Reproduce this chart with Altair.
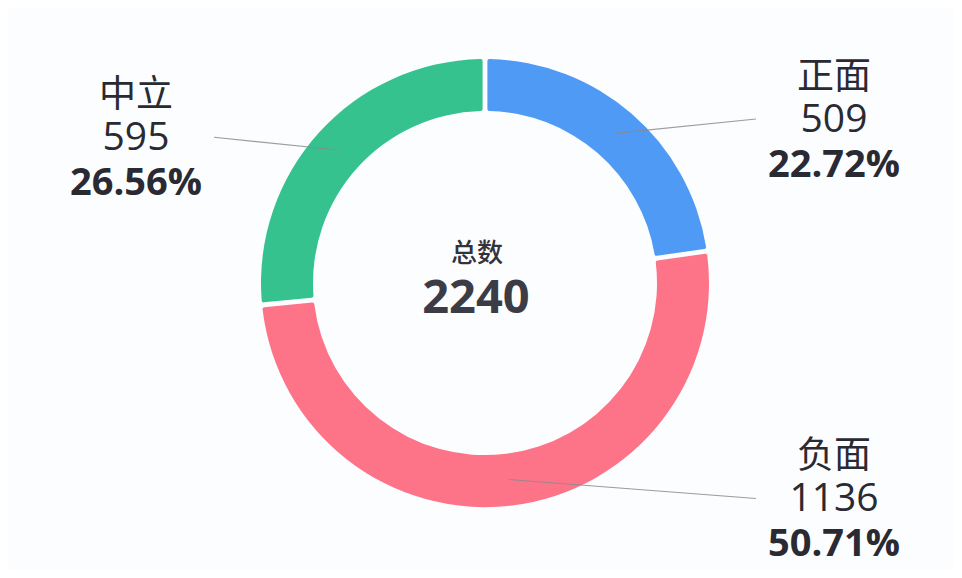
import altair as alt
import pandas as pd

# ---- data ----
categories = ["正面", "负面", "中立"]
counts = [509, 1136, 595]
percents = ["22.72%", "50.71%", "26.56%"]
colors = ["#4f9af4", "#fd7489", "#36c28e"]
center_title = "总数"
center_value = "2240"

df = pd.DataFrame({
    "category": categories,
    "count": counts,
    "pct": percents,
    "order": list(range(len(categories))),
})

# ---- layout constants ----
W, H = 946, 562
CX, CY = 477, 275
R_OUT, R_IN = 224, 172
R_MID = (R_OUT + R_IN) / 2
LINE_X = 271
LINE_YR = 217
LABEL_GAP = 78
TEXT_COLOR = "#2a2a32"

color_scale = alt.Scale(domain=categories, range=colors)

arcs = alt.Chart(df).mark_arc(
    outerRadius=R_OUT, innerRadius=R_IN, padAngle=0.017, cornerRadius=2
).encode(
    theta=alt.Theta("count:Q", stack=True),
    order=alt.Order("order:Q"),
    color=alt.Color("category:N", scale=color_scale, legend=None),
    x=alt.value(CX),
    y=alt.value(CY),
)

base = alt.Chart(df).transform_window(
    cum="sum(count)", sort=[alt.SortField("order")], frame=[None, 0]
).transform_joinaggregate(
    total="sum(count)"
).transform_calculate(
    mid="(datum.cum - datum.count / 2) / datum.total * 2 * PI"
).transform_calculate(
    side="sin(datum.mid) >= 0 ? 1 : -1",
    sx=f"{CX} + {R_MID} * sin(datum.mid)",
    sy=f"{CY} - {R_MID} * cos(datum.mid)",
).transform_calculate(
    ex=f"{CX} + datum.side * {LINE_X}",
    ey=f"{CY} - {LINE_YR} * cos(datum.mid)",
).transform_calculate(
    lx=f"datum.ex + datum.side * {LABEL_GAP}",
)

lines = base.mark_rule(color="#8a8a90", strokeWidth=1.1, opacity=0.85).encode(
    x=alt.X("sx:Q", scale=None),
    y=alt.Y("sy:Q", scale=None),
    x2="ex:Q",
    y2="ey:Q",
)

name_text = base.mark_text(
    font="Noto Sans CJK SC", fontSize=37, color=TEXT_COLOR,
    align="center", baseline="alphabetic", dy=-30,
).encode(x=alt.X("lx:Q", scale=None), y=alt.Y("ey:Q", scale=None), text="category:N")

count_text = base.mark_text(
    font="Open Sans", fontSize=39, color=TEXT_COLOR,
    align="center", baseline="alphabetic", dy=13,
).encode(x=alt.X("lx:Q", scale=None), y=alt.Y("ey:Q", scale=None), text="count:Q")

pct_text = base.mark_text(
    font="Open Sans", fontSize=38, fontWeight="bold", color=TEXT_COLOR,
    align="center", baseline="alphabetic", dy=58,
).encode(x=alt.X("lx:Q", scale=None), y=alt.Y("ey:Q", scale=None), text="pct:N")

center_df = pd.DataFrame({"title": [center_title], "value": [center_value]})

center_title_mark = alt.Chart(center_df).mark_text(
    font="Noto Sans CJK SC", fontSize=26, fontWeight=500, color="#33333b",
    align="center", baseline="alphabetic",
).encode(x=alt.value(CX - 8), y=alt.value(CY - 21), text="title:N")

center_value_mark = alt.Chart(center_df).mark_text(
    font="Open Sans", fontSize=47, fontWeight="bold", color="#3c3c46",
    align="center", baseline="alphabetic",
).encode(x=alt.value(CX - 9), y=alt.value(CY + 30), text="value:N")

chart = alt.layer(
    arcs, lines, name_text, count_text, pct_text, center_title_mark, center_value_mark
).properties(
    width=W, height=H, padding=0,
    autosize=alt.AutoSizeParams(type="fit", contains="padding"),
    background="#fcfdff",
).configure_view(stroke=None)

chart.save("out.html", embed_options={"renderer": "svg", "actions": False})
